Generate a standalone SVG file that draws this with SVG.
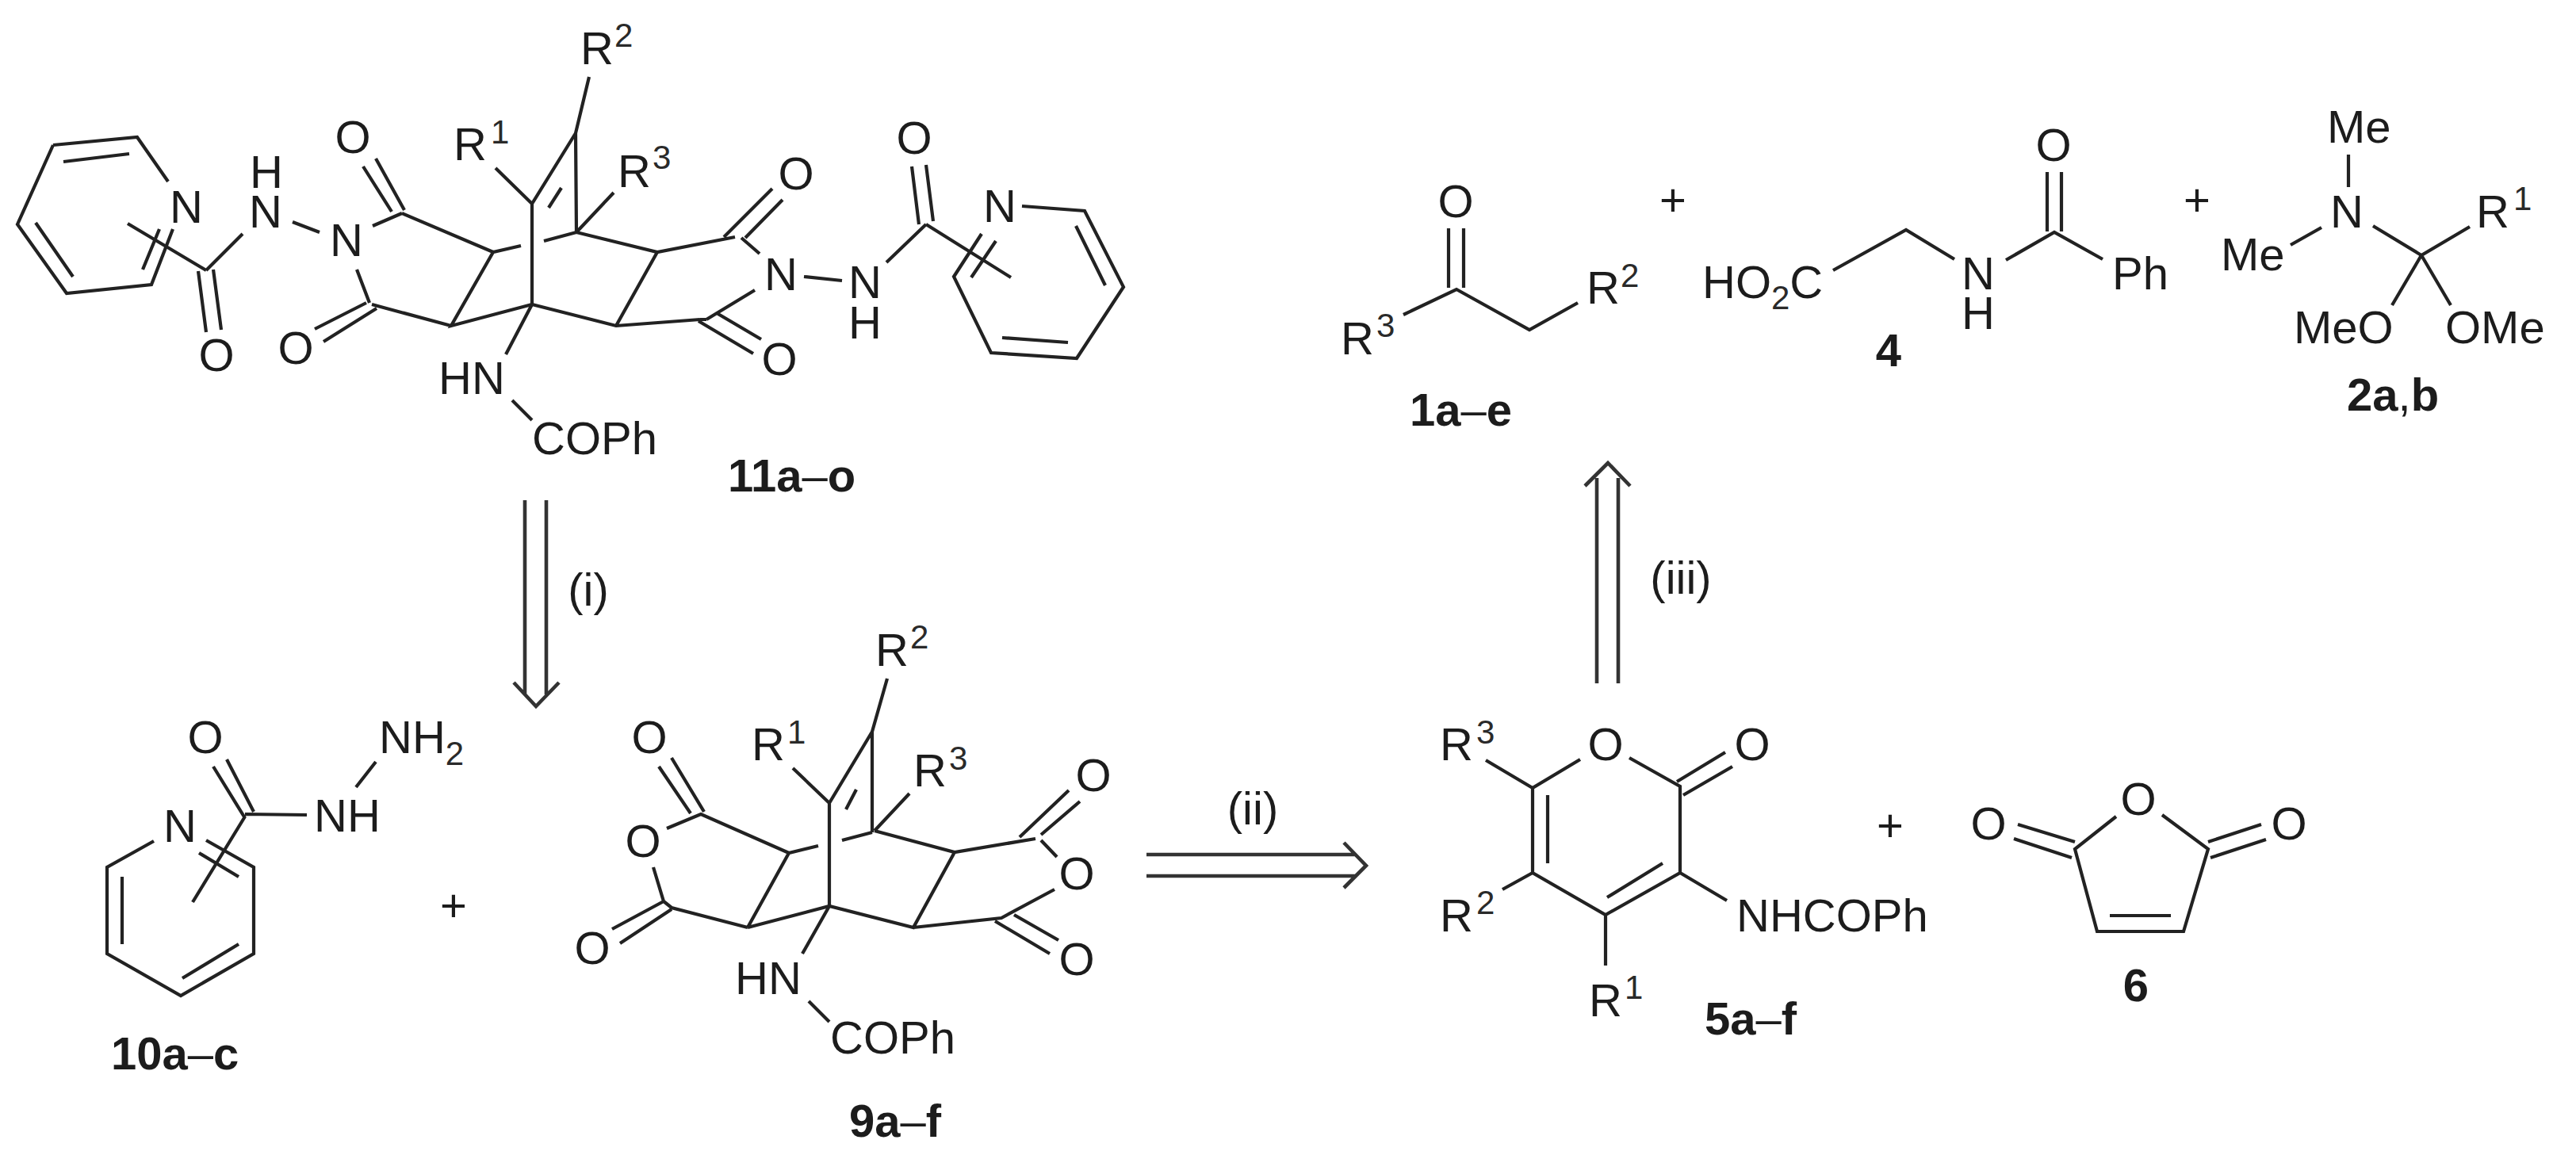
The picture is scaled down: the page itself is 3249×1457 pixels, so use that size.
<svg xmlns="http://www.w3.org/2000/svg" width="3249" height="1457" viewBox="0 0 3249 1457">
<style>
text{font-family:"Liberation Sans",Arial,sans-serif;font-size:58px;fill:#1c1c1c}
.c{text-anchor:middle}
.s{font-size:42px;fill:#2a2a2a}
.b{font-weight:bold}
.n{font-weight:normal}
path{fill:none;stroke:#222;stroke-width:4.2;stroke-linecap:butt;stroke-linejoin:miter}
.a{stroke:#333;stroke-width:4.6}
</style>
<rect width="3249" height="1457" fill="#fff"/>
<g id="connectors">
<path class="a" d="M662 631V876M689 631V876M648 861L676 891L705 861"/>
<path class="a" d="M1446 1078H1709M1446 1105H1709M1695 1063L1723 1092L1695 1120"/>
<path class="a" d="M2014 862V603M2041 862V603M1999 613L2028 584L2056 613"/>
<text class="c" x="742" y="764">(i)</text>
<text class="c" x="1580" y="1040">(ii)</text>
<text class="c" x="2120" y="749">(iii)</text>
</g>
<g id="node-11">
<path d="M67 183L173 173L212 229M218 289L191 359L84 370L22 283L67 183M80 204L163 194M45 281L92 349M201 289L180 340"/>
<path d="M161 282L260 341M250 342L260 419M269 340L279 416M260 341L306 295M369 280L403 293"/>
<path d="M470 285L507 269M458 210L494 267M474 200L510 265M507 269L622 318L657 310M686 304L727 293M622 318L569 411L671 384M450 340L466 382M469 384L569 411M397 415L462 382M408 431L475 389"/>
<path d="M671 257V384M727 293L726 168M671 257L726 168L743 97M692 262L708 237M625 212L671 257M727 293L774 243"/>
<path d="M671 384L638 447M646 505L671 530M671 384L777 411L883 403M829 318L777 411M727 293L829 318L927 299M913 299L974 238M940 300L987 252M935 300L958 320M952 366L891 403M883 403L891 403M881 405L950 446M904 395L960 428M1014 349L1062 354"/>
<path d="M1118 331L1168 283M1150 210L1159 283M1168 208L1177 279M1168 283L1275 350M1289 260L1368 266L1417 362L1358 452L1250 445L1203 349L1238 295M1357 285L1394 360M1264 426L1347 432M1225 350L1256 304"/>
<text class="c" x="235" y="281">N</text>
<text class="c"><tspan x="336" y="237">H</tspan><tspan x="335" y="287">N</tspan></text>
<text class="c" x="437" y="323">N</text>
<text class="c" x="445" y="193">O</text>
<text class="c" x="273" y="468">O</text>
<text class="c" x="373" y="459">O</text>
<text x="572" y="202">R<tspan class="s" x="619" y="181">1</tspan></text>
<text x="732" y="81">R<tspan class="s" x="775" y="59">2</tspan></text>
<text x="779" y="236">R<tspan class="s" x="823" y="213">3</tspan></text>
<text x="553" y="497">HN</text>
<text x="671" y="573">COPh</text>
<text class="c" x="1004" y="239">O</text>
<text class="c" x="985" y="366">N</text>
<text class="c" x="983" y="473">O</text>
<text class="c"><tspan x="1091" y="376">N</tspan><tspan x="1091" y="427">H</tspan></text>
<text class="c" x="1153" y="194">O</text>
<text class="c" x="1261" y="280">N</text>
<text class="b" x="918" y="620">11a<tspan class="n">–</tspan>o</text>
</g>
<g id="node-10">
<path d="M194 1061L135 1094V1203L228 1256L320 1203V1094L260 1060M154 1106V1191M230 1234L301 1191M251 1076L301 1106"/>
<path d="M309 1030L243 1138M269 967L309 1032M286 958L320 1024M309 1027L387 1028M449 993L474 961"/>
<text class="c" x="227" y="1062">N</text>
<text class="c" x="259" y="950">O</text>
<text x="396" y="1049">NH</text>
<text x="478" y="950">NH<tspan class="s" dy="15">2</tspan></text>
<text class="b" x="140" y="1349">10a<tspan class="n">–</tspan>c</text>
</g>
<text id="plus-1" class="c" x="572" y="1162">+</text>
<g id="node-9">
<path d="M1119 856L1100 923V1050M1100 923L1046 1013V1143M1067 1021L1080 996M1000 969L1046 1013M1103 1048L1147 1001"/>
<path d="M1062 1060L1100 1050M1032 1067L995 1076L884 1027L841 1045M831 967L871 1026M847 956L888 1024M824 1094L837 1137L847 1145L943 1170M772 1172L837 1137M782 1190L847 1147M943 1170L995 1076M943 1170L1046 1143L1152 1170L1204 1075M1103 1048L1204 1075L1306 1058M1286 1056L1348 997M1313 1053L1362 1011M1313 1060L1333 1081M1330 1122L1263 1158L1152 1170M1255 1162L1324 1203M1279 1154L1335 1186M1046 1143L1012 1203M1020 1263L1046 1289"/>
<text x="1104" y="840">R<tspan class="s" x="1148" y="818">2</tspan></text>
<text x="948" y="959">R<tspan class="s" x="993" y="938">1</tspan></text>
<text x="1152" y="992">R<tspan class="s" x="1197" y="971">3</tspan></text>
<text class="c" x="819" y="950">O</text>
<text class="c" x="811" y="1081">O</text>
<text class="c" x="747" y="1216">O</text>
<text class="c" x="1379" y="998">O</text>
<text class="c" x="1358" y="1122">O</text>
<text class="c" x="1358" y="1230">O</text>
<text x="927" y="1254">HN</text>
<text x="1047" y="1329">COPh</text>
<text class="b" x="1071" y="1434">9a<tspan class="n">–</tspan>f</text>
</g>
<g id="node-5">
<path d="M1993 958L1933 994V1101L2025 1154L2119 1101V992L2055 956M2115 986L2176 949M2123 1003L2185 967M1952 1003V1089M2027 1132L2097 1089M1874 959L1933 994M1895 1122L1933 1101M2025 1154V1218M2119 1101L2178 1136"/>
<text class="c" x="2025" y="959">O</text>
<text class="c" x="2210" y="959">O</text>
<text x="1816" y="959">R<tspan class="s" x="1862" y="938">3</tspan></text>
<text x="1816" y="1175">R<tspan class="s" x="1862" y="1153">2</tspan></text>
<text x="2004" y="1282">R<tspan class="s" x="2049" y="1260">1</tspan></text>
<text x="2190" y="1175">NHCOPh</text>
<text class="b" x="2150" y="1305">5a<tspan class="n">–</tspan>f</text>
</g>
<text id="plus-2" class="c" x="2384" y="1061">+</text>
<g id="node-6">
<path d="M2669 1030L2617 1071L2645 1175H2754L2785 1071L2727 1028M2545 1040L2617 1062M2540 1058L2613 1082M2785 1062L2852 1040M2788 1082L2858 1059M2661 1155H2738"/>
<text class="c" x="2697" y="1028">O</text>
<text class="c" x="2508" y="1059">O</text>
<text class="c" x="2887" y="1059">O</text>
<text class="c b" x="2694" y="1263">6</text>
</g>
<g id="node-1">
<path d="M1827 288V363M1846 288V363M1770 397L1837 365L1929 416L1990 382"/>
<text class="c" x="1836" y="274">O</text>
<text x="1691" y="447">R<tspan class="s" x="1736" y="425">3</tspan></text>
<text x="2001" y="383">R<tspan class="s" x="2044" y="362">2</tspan></text>
<text class="b" x="1778" y="537">1a<tspan class="n">–</tspan>e</text>
</g>
<text id="plus-3" class="c" x="2110" y="272">+</text>
<g id="node-4">
<path d="M2312 341L2404 290L2465 327M2530 328L2591 293L2652 327M2582 217V292M2600 217V292"/>
<text x="2147" y="376">HO<tspan class="s" dy="14">2</tspan><tspan dy="-14">C</tspan></text>
<text class="c"><tspan x="2495" y="365">N</tspan><tspan x="2495" y="415">H</tspan></text>
<text class="c" x="2590" y="203">O</text>
<text x="2664" y="365">Ph</text>
<text class="c b" x="2382" y="462">4</text>
</g>
<text id="plus-4" class="c" x="2771" y="272">+</text>
<g id="node-2">
<path d="M2962 195V236M2889 309L2928 287M2993 285L3054 322L3115 286M3054 322L3017 385M3054 322L3091 385"/>
<text x="2935" y="180">Me</text>
<text class="c" x="2960" y="287">N</text>
<text x="2801" y="341">Me</text>
<text x="3123" y="287">R<tspan class="s" x="3170" y="265">1</tspan></text>
<text x="2893" y="433">MeO</text>
<text x="3084" y="433">OMe</text>
<text class="b" x="2960" y="518">2a<tspan class="n">,</tspan>b</text>
</g>
</svg>
